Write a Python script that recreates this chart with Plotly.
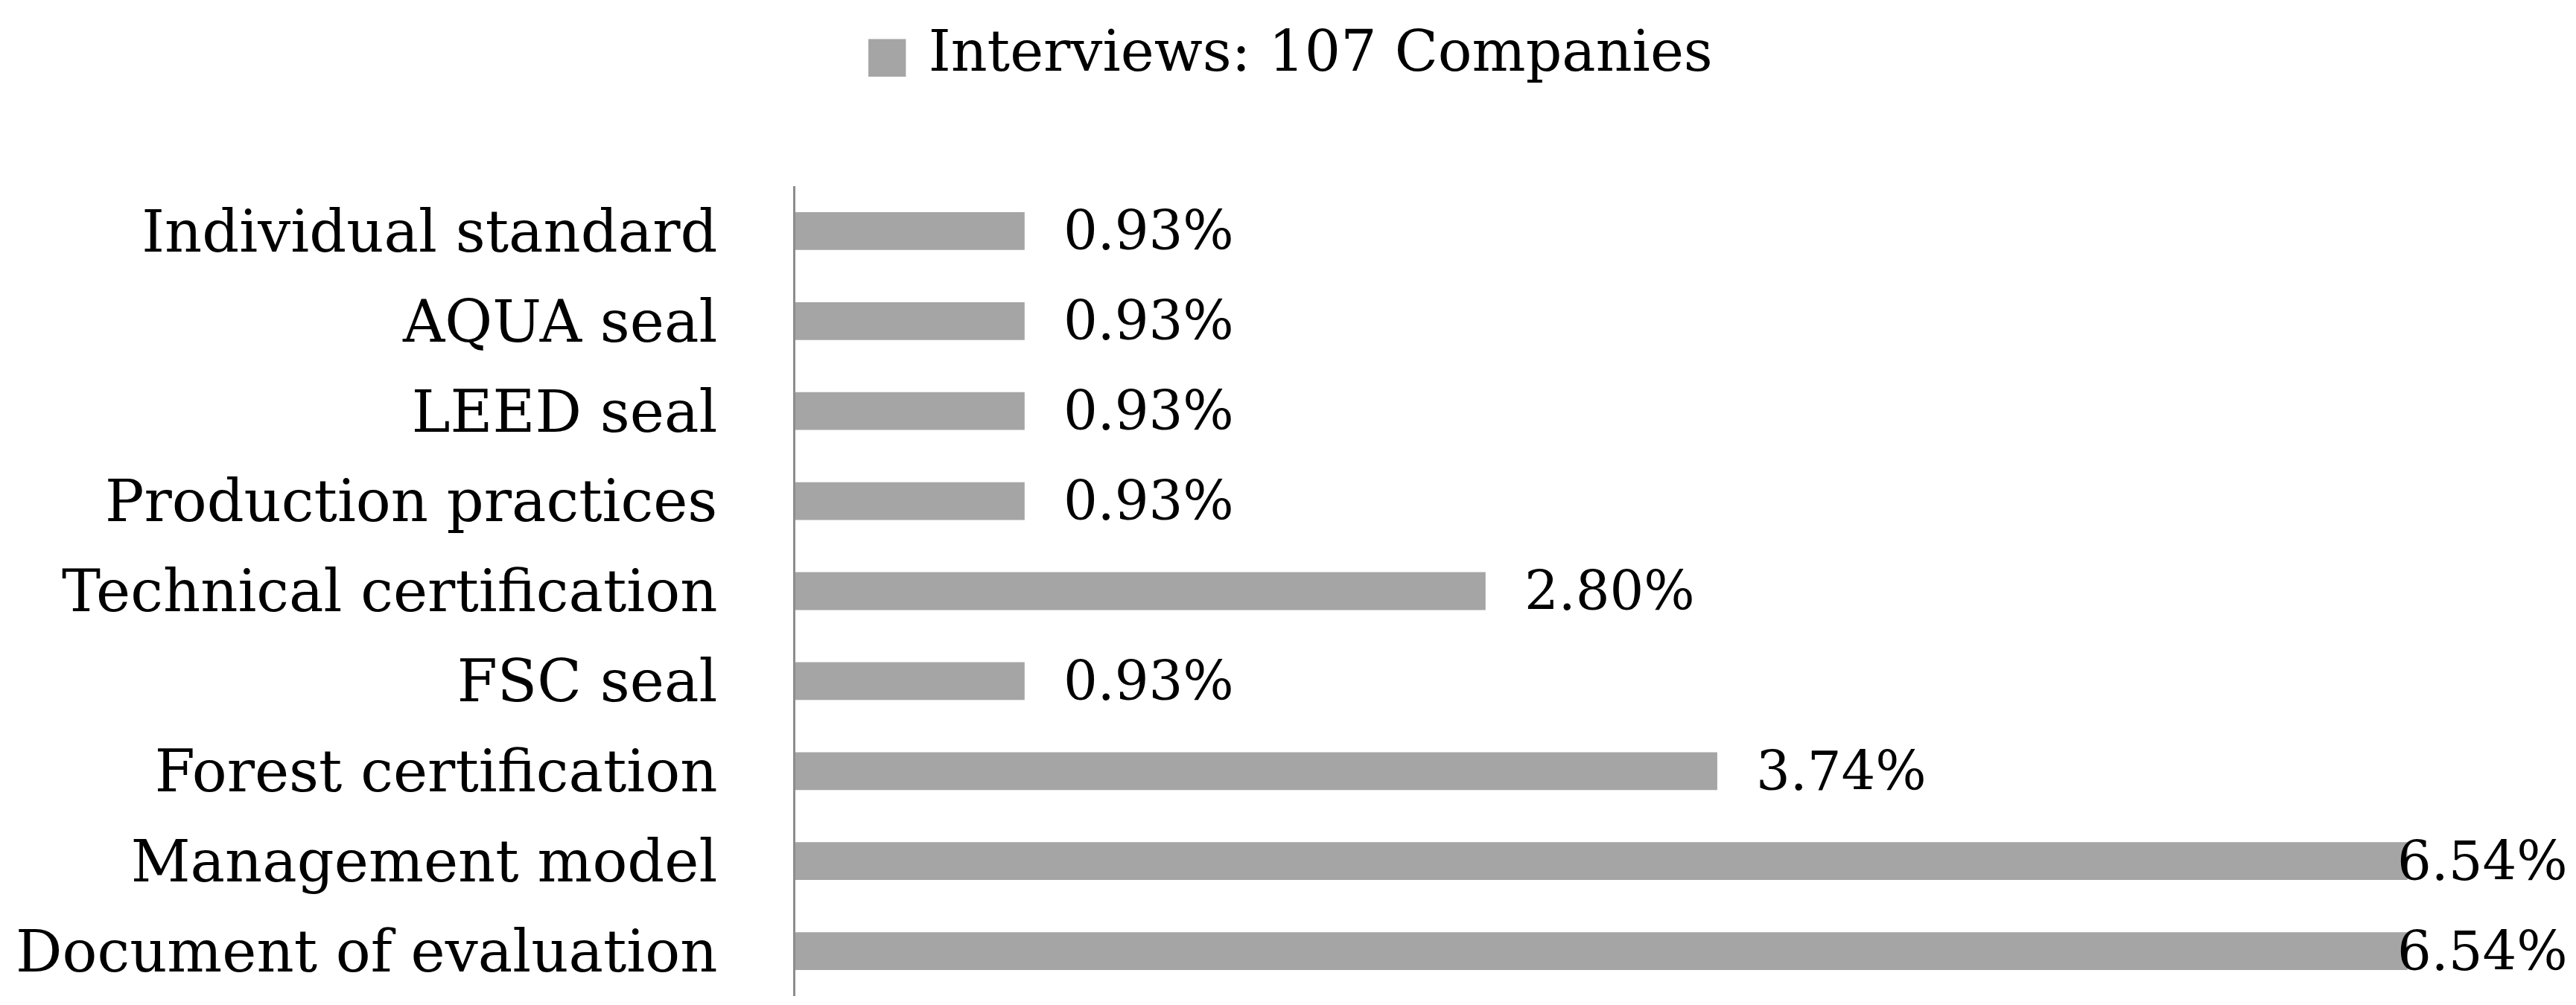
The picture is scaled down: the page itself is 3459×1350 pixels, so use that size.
import plotly.graph_objects as go

categories = [
    "Individual standard",
    "AQUA seal",
    "LEED seal",
    "Production practices",
    "Technical certification",
    "FSC seal",
    "Forest certification",
    "Management model",
    "Document of evaluation",
]
values = [0.93, 0.93, 0.93, 0.93, 2.80, 0.93, 3.74, 6.54, 6.54]
labels = ["0.93%", "0.93%", "0.93%", "0.93%", "2.80%", "0.93%", "3.74%", "6.54%", "6.54%"]
series_name = "Interviews: 107 Companies"

BAR = "#A5A5A5"
FONT = "DejaVu Serif"
W, H = 3459, 1350
ML, MR, MT, MB = 1060, 82, 242, 20

fig = go.Figure()
fig.add_trace(go.Bar(
    y=categories, x=values, orientation="h",
    marker=dict(color=BAR, line=dict(width=0)),
    name=series_name, showlegend=False, hoverinfo="skip",
))

vmax = max(values)
for c, v, t in zip(categories, values, labels):
    fig.add_annotation(
        x=v, y=c, xref="x", yref="y", text=t, showarrow=False,
        xanchor="left", yanchor="middle",
        xshift=(-16 if v == vmax else 50),
        font=dict(family=FONT, size=72, color="#000000"),
    )

fig.update_layout(
    width=W, height=H,
    margin=dict(l=ML, r=MR, t=MT, b=MB, pad=0),
    paper_bgcolor="white", plot_bgcolor="white",
    bargap=0.58,
    title=dict(
        text=f'<span style="color:{BAR};font-family:DejaVu Sans;font-size:66px">■</span> {series_name}',
        x=1722 / W, xanchor="center", xref="container",
        y=1 - 60 / H, yanchor="middle", yref="container",
        font=dict(family=FONT, size=76, color="#000000"),
    ),
    xaxis=dict(range=[0, 7], visible=False, showgrid=False, zeroline=False, fixedrange=True),
    yaxis=dict(
        autorange="reversed", showline=True, linecolor="#8C8C8C", linewidth=3,
        ticks="", showgrid=False, zeroline=False, ticklabelstandoff=86,
        tickfont=dict(family=FONT, size=78, color="#000000"),
    ),
    showlegend=False,
)

fig.write_html("out.html")
